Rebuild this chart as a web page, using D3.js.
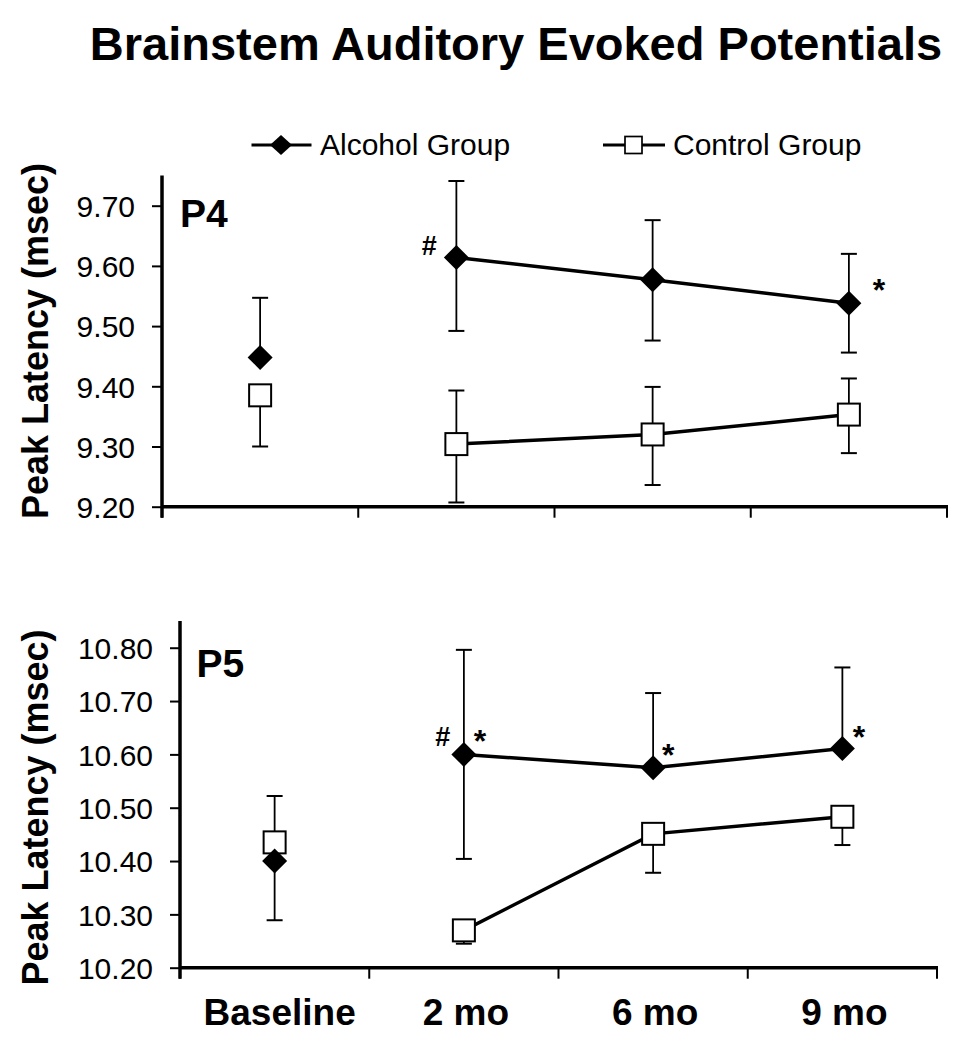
<!DOCTYPE html>
<html>
<head>
<meta charset="utf-8">
<script src="https://cdn.jsdelivr.net/npm/d3@7"></script>
<style>
  html, body { margin: 0; padding: 0; background: #fff; }
  svg { display: block; font-family: "Liberation Sans", Arial, Helvetica, sans-serif; }
</style>
</head>
<body>
<svg id="chart" width="959" height="1050"></svg>
<script>
// ---------------- DATA ----------------
const categories = ["Baseline", "2 mo", "6 mo", "9 mo"];
const seriesNames = ["Alcohol Group", "Control Group"];

// P4 panel
const p4Ticks = [9.20, 9.30, 9.40, 9.50, 9.60, 9.70];
const p4Alcohol = [9.448, 9.614, 9.577, 9.538];
const p4AlcoholErrUp = [0.099, 0.127, 0.099, 0.082];
const p4AlcoholErrDown = [null, 0.122, 0.101, 0.082];
const p4Control = [9.385, 9.304, 9.320, 9.353];
const p4ControlErrUp = [null, 0.089, 0.079, 0.060];
const p4ControlErrDown = [0.085, 0.097, 0.084, 0.064];

// P5 panel
const p5Ticks = [10.20, 10.30, 10.40, 10.50, 10.60, 10.70, 10.80];
const p5Alcohol = [10.400, 10.600, 10.575, 10.611];
const p5AlcoholErrUp = [null, 0.196, 0.140, 0.152];
const p5AlcoholErrDown = [0.111, 0.196, null, null];
const p5Control = [10.435, 10.270, 10.451, 10.483];
const p5ControlErrUp = [0.087, null, null, null];
const p5ControlErrDown = [null, 0.025, 0.073, 0.053];

// significance marks: [series, category, text, dx, dy]
const p4Marks = [
  ["alcohol", "2 mo", "#", -27, -2.5],
  ["alcohol", "9 mo", "*", 30, -2]
];
const p5Marks = [
  ["alcohol", "2 mo", "#", -21, -8],
  ["alcohol", "2 mo", "*", 16, -2],
  ["alcohol", "6 mo", "*", 15, -1.5],
  ["alcohol", "9 mo", "*", 16.5, -0.5]
];

// ---------------- DRAW ----------------
const svg = d3.select("#chart");
const FONT = '"Liberation Sans", Arial, Helvetica, sans-serif';

svg.append("text")
  .attr("x", 516).attr("y", 60)
  .attr("text-anchor", "middle")
  .attr("font-size", 47).attr("font-weight", "bold")
  .text("Brainstem Auditory Evoked Potentials");

function diamondPath(cx, cy, hw, hh) {
  return `M${cx},${cy - hh}L${cx + hw},${cy}L${cx},${cy + hh}L${cx - hw},${cy}Z`;
}

// Legend
const leg = svg.append("g");
leg.append("line").attr("x1", 251.5).attr("x2", 311.5).attr("y1", 145).attr("y2", 145)
  .attr("stroke", "#000").attr("stroke-width", 3.2);
leg.append("path").attr("d", diamondPath(281, 145, 11, 10)).attr("fill", "#000");
leg.append("text").attr("x", 320).attr("y", 155).attr("font-size", 30).text(seriesNames[0]);
leg.append("line").attr("x1", 603).attr("x2", 665).attr("y1", 145).attr("y2", 145)
  .attr("stroke", "#000").attr("stroke-width", 3.2);
leg.append("rect").attr("x", 633.5 - 8.5).attr("y", 145 - 8.5).attr("width", 17).attr("height", 17)
  .attr("fill", "#fff").attr("stroke", "#000").attr("stroke-width", 1.7);
leg.append("text").attr("x", 673).attr("y", 155).attr("font-size", 30).text(seriesNames[1]);

function panel(cfg) {
  const g = svg.append("g");
  const x = d3.scaleBand().domain(categories).range([cfg.x0, cfg.x1]).paddingInner(0).paddingOuter(0);
  const y = d3.scaleLinear().domain(cfg.domain).range([cfg.y0, cfg.yTop]);
  const cx = c => x(c) + x.bandwidth() / 2;

  // y axis
  const yAxis = d3.axisLeft(y).tickValues(cfg.ticks).tickFormat(d3.format(".2f"))
    .tickSizeInner(10).tickSizeOuter(0).tickPadding(17);
  const ya = g.append("g").attr("transform", `translate(${cfg.x0},0)`).call(yAxis);
  ya.select(".domain").remove();
  ya.selectAll(".tick line").attr("stroke", "#000").attr("stroke-width", 2);
  ya.selectAll(".tick text").attr("font-size", 30).attr("font-family", FONT).attr("fill", "#000")
    .attr("dy", "0.36em");
  g.append("line").attr("x1", cfg.x0).attr("x2", cfg.x0)
    .attr("y1", y(cfg.domain[1])).attr("y2", cfg.y0 + 11)
    .attr("stroke", "#000").attr("stroke-width", 3.5);

  // x axis (ticks at band boundaries)
  const bounds = categories.map(c => x(c)).concat([cfg.x1]);
  g.append("line").attr("x1", cfg.x0).attr("x2", cfg.x1 + 1).attr("y1", cfg.y0).attr("y2", cfg.y0)
    .attr("stroke", "#000").attr("stroke-width", 3.5);
  g.selectAll(".xtick").data(bounds).enter().append("line")
    .attr("x1", d => d).attr("x2", d => d).attr("y1", cfg.y0).attr("y2", cfg.y0 + 11)
    .attr("stroke", "#000").attr("stroke-width", 2);
  if (cfg.xLabels) {
    g.selectAll(".xlab").data(categories).enter().append("text")
      .attr("x", d => cx(d) + (d === "Baseline" ? 5 : 2)).attr("y", 1025)
      .attr("text-anchor", "middle").attr("font-size", 37).attr("font-weight", "bold")
      .text(d => d);
  }

  // y title
  g.append("text")
    .attr("transform", `translate(48,${cfg.titleY}) rotate(-90)`)
    .attr("text-anchor", "middle").attr("font-size", 36).attr("font-weight", "bold")
    .text("Peak Latency (msec)");

  // panel label
  g.append("text").attr("x", cfg.labelX).attr("y", cfg.labelY)
    .attr("font-size", 39).attr("font-weight", "bold").text(cfg.label);

  const series = [
    { key: "alcohol", vals: cfg.alc, up: cfg.alcUp, dn: cfg.alcDn },
    { key: "control", vals: cfg.ctl, up: cfg.ctlUp, dn: cfg.ctlDn }
  ];

  // lines (follow-up points only)
  const line = d3.line().x(d => cx(d.c)).y(d => y(d.v));
  series.forEach(s => {
    const pts = categories.map((c, i) => ({ c, v: s.vals[i] })).slice(1);
    g.append("path").attr("d", line(pts)).attr("fill", "none")
      .attr("stroke", "#000").attr("stroke-width", 3.5).attr("stroke-linejoin", "miter");
  });

  // error bars
  const capW = 8;
  series.forEach(s => {
    categories.forEach((c, i) => {
      const v = s.vals[i];
      [[s.up[i], 1], [s.dn[i], -1]].forEach(([e, sign]) => {
        if (e == null) return;
        const yv = y(v), ye = y(v + sign * e);
        g.append("line").attr("x1", cx(c)).attr("x2", cx(c)).attr("y1", yv).attr("y2", ye)
          .attr("stroke", "#000").attr("stroke-width", 1.8);
        g.append("line").attr("x1", cx(c) - capW).attr("x2", cx(c) + capW).attr("y1", ye).attr("y2", ye)
          .attr("stroke", "#000").attr("stroke-width", 2);
      });
    });
  });

  // markers
  categories.forEach((c, i) => {
    g.append("rect").attr("x", cx(c) - 11).attr("y", y(cfg.ctl[i]) - 11)
      .attr("width", 22).attr("height", 22)
      .attr("fill", "#fff").attr("stroke", "#000").attr("stroke-width", 2);
    g.append("path").attr("d", diamondPath(cx(c), y(cfg.alc[i]), 12.5, 12.5)).attr("fill", "#000");
  });

  // significance marks
  cfg.marks.forEach(([sk, c, t, dx, dy]) => {
    const i = categories.indexOf(c);
    const v = sk === "alcohol" ? cfg.alc[i] : cfg.ctl[i];
    g.append("text").attr("x", cx(c) + dx).attr("y", y(v) + dy)
      .attr("text-anchor", "middle").attr("font-weight", "bold")
      .attr("font-size", t === "#" ? 27 : 32).text(t);
  });
}

panel({
  x0: 162, x1: 947, y0: 506.7, yTop: 506.7 - 0.55 * 602, domain: [9.2, 9.75], ticks: p4Ticks,
  alc: p4Alcohol, alcUp: p4AlcoholErrUp, alcDn: p4AlcoholErrDown,
  ctl: p4Control, ctlUp: p4ControlErrUp, ctlDn: p4ControlErrDown,
  marks: p4Marks, label: "P4", labelX: 180, labelY: 227, titleY: 341, xLabels: false
});
panel({
  x0: 180, x1: 937, y0: 967.7, yTop: 967.7 - 0.65 * 533.3, domain: [10.2, 10.85], ticks: p5Ticks,
  alc: p5Alcohol, alcUp: p5AlcoholErrUp, alcDn: p5AlcoholErrDown,
  ctl: p5Control, ctlUp: p5ControlErrUp, ctlDn: p5ControlErrDown,
  marks: p5Marks, label: "P5", labelX: 196.5, labelY: 677, titleY: 807.5, xLabels: true
});
</script>
</body>
</html>
